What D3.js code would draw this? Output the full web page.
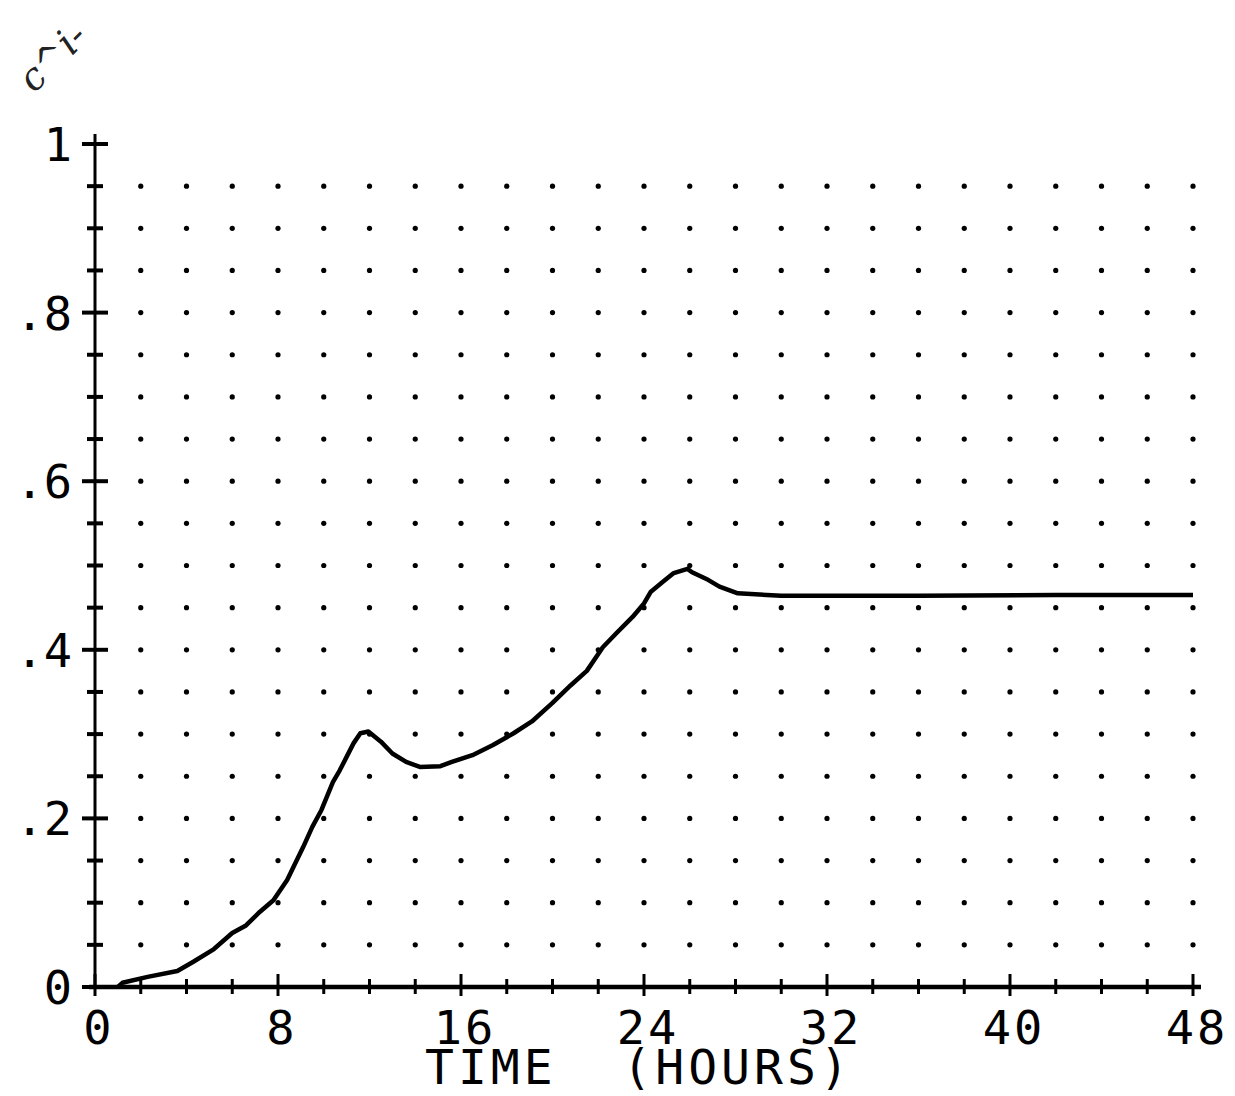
<!DOCTYPE html>
<html>
<head>
<meta charset="utf-8">
<script src="https://cdn.jsdelivr.net/npm/d3@7"></script>
<style>
  body { margin: 0; background: #fff; }
  text { font-family: "DejaVu Sans Mono", monospace; fill: #000; }
  .tick-label { font-size: 47px; }
  .x-label { letter-spacing: 3px; }
  .axis-title { font-size: 48px; letter-spacing: 4px; white-space: pre; }
  .note { font-family: "DejaVu Serif", serif; font-size: 38px; font-style: italic; fill: #222; }
</style>
</head>
<body>
<svg width="1235" height="1096"></svg>
<script>
// values
var hours = [1.0, 1.2, 2.3, 3.6, 4.3, 5.2, 6.0, 6.6, 7.2, 7.8, 8.4, 9.1, 9.5, 9.9, 10.4, 10.7, 11.0, 11.3, 11.6, 11.95,
             12.5, 13.0, 13.6, 14.2, 15.1, 15.6, 16.5, 17.4, 18.3, 19.1, 20.0, 20.8, 21.5, 22.2, 22.8, 23.5, 24.0, 24.3,
             24.8, 25.3, 25.9, 26.1, 26.8, 27.3, 28.1, 30, 36, 42, 48];
var level = [0, 0.005, 0.012, 0.019, 0.03, 0.045, 0.064, 0.073, 0.089, 0.103, 0.127, 0.166, 0.19, 0.21, 0.243, 0.257, 0.273, 0.289, 0.301, 0.303,
             0.291, 0.277, 0.267, 0.261, 0.262, 0.267, 0.275, 0.287, 0.301, 0.315, 0.337, 0.358, 0.375, 0.403, 0.42, 0.439, 0.455, 0.469,
             0.48, 0.491, 0.496, 0.492, 0.483, 0.475, 0.467, 0.464, 0.464, 0.465, 0.465];

var xTicks = [0, 8, 16, 24, 32, 40, 48];
var yTicks = [0, 0.2, 0.4, 0.6, 0.8, 1];
var yLabels = ["0", ".2", ".4", ".6", ".8", "1"];

var svg = d3.select("svg");

var x = d3.scaleLinear().domain([0, 48]).range([95, 1193]);
var y = d3.scaleLinear().domain([0, 1]).range([987, 144]);

// dot grid: every 2 hours, every .05
var gx = d3.range(2, 48.1, 2);
var gy = d3.range(1, 20).map(function(i) { return i * 0.05; });
var dots = [];
gx.forEach(function(a) { gy.forEach(function(b) { dots.push([a, b]); }); });

svg.append("g").selectAll("circle")
    .data(dots)
    .enter()
    .append("circle")
    .attr("cx", (d) => x(d[0]))
    .attr("cy", (d) => y(d[1]))
    .attr("r", 2.6)
    .attr("fill", "#000");

// y axis with cross ticks
svg.append("line")
    .attr("x1", x(0)).attr("x2", x(0))
    .attr("y1", y(0)).attr("y2", y(1) - 10)
    .attr("stroke", "#000").attr("stroke-width", 3);

svg.append("g").selectAll("line")
    .data(d3.range(0, 21).map(function(i) { return i * 0.05; }))
    .enter()
    .append("line")
    .attr("x1", (d, i) => x(0) - (i % 4 == 0 ? 13 : 8))
    .attr("x2", (d, i) => x(0) + (i % 4 == 0 ? 13 : 8))
    .attr("y1", (d) => y(d)).attr("y2", (d) => y(d))
    .attr("stroke", "#000").attr("stroke-width", 4);

// x axis
svg.append("line")
    .attr("x1", x(0) - 6).attr("x2", x(48) + 8)
    .attr("y1", y(0)).attr("y2", y(0))
    .attr("stroke", "#000").attr("stroke-width", 4.5);

svg.append("g").selectAll("line")
    .data(d3.range(0, 49, 2))
    .enter()
    .append("line")
    .attr("x1", (d) => x(d)).attr("x2", (d) => x(d))
    .attr("y1", (d) => y(0) - (d % 8 == 0 ? 13 : 8))
    .attr("y2", (d) => y(0) + (d % 8 == 0 ? 9 : 7))
    .attr("stroke", "#000").attr("stroke-width", 3);

// labels
svg.append("g").selectAll("text")
    .data(yTicks)
    .enter()
    .append("text")
    .attr("class", "tick-label")
    .attr("text-anchor", "end")
    .attr("x", 72)
    .attr("y", (d) => y(d) + 17)
    .text((d, i) => yLabels[i]);

svg.append("g").selectAll("text")
    .data(xTicks)
    .enter()
    .append("text")
    .attr("class", "tick-label x-label")
    .attr("text-anchor", "middle")
    .attr("x", (d) => x(d) + 4)
    .attr("y", 1044)
    .text((d) => d);

svg.append("text")
    .attr("class", "axis-title")
    .attr("x", 425)
    .attr("y", 1084)
    .text("TIME  (HOURS)");

// pencil mark in the corner
svg.append("text")
    .attr("class", "note")
    .attr("transform", "translate(34,94) rotate(-45)")
    .text("c^i-");

// the curve
var pts = hours.map(function(h, i) { return [h, level[i]]; });
var line = d3.line()
    .x((d) => x(d[0]))
    .y((d) => y(d[1]));

svg.append("path")
    .datum(pts)
    .attr("d", line)
    .attr("fill", "none")
    .attr("stroke", "#000")
    .attr("stroke-width", 4.5)
    .attr("stroke-linejoin", "round");
</script>
</body>
</html>
